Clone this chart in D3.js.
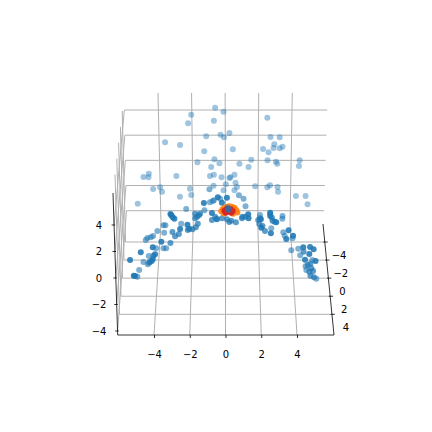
<!DOCTYPE html>
<html>
<head>
<meta charset="utf-8">
<script src="https://cdn.jsdelivr.net/npm/d3@7"></script>
<style>
html,body{margin:0;padding:0;background:#fff}
svg{display:block;font-family:"DejaVu Sans",sans-serif}
</style>
</head>
<body>
<svg id="chart" width="432" height="432"></svg>
<script>
const tickValues = [-4,-2,0,2,4];

// Projected positions, in units of the front x axis and the front z axis.
const farX = [-0.58,-1.92,-0.11,-2.09,-0.65,-1.08,-0.28,-0.09,0.22,-3.38,-2.54,-1.19,-0.62,-0.34,-1.57,-0.80,-0.65,-0.87,-4.29,-4.59,-4.31,-2.75,-0.22,0.22,0.02,-0.67,-4.05,-3.66,-3.55,-1.99,-0.11,-2.55,-1.92,-4.91,2.34,2.52,3.03,2.73,2.10,2.69,3.03,3.19,2.41,0.41,1.44,0.78,1.29,2.35,2.82,2.90,4.15,4.11,0.28,0.50,0.56,0.64,0.50,1.66,2.34,2.49,2.91,2.94,3.94,4.48,4.59];
const farZ = [12.85,12.32,12.55,11.68,11.87,10.69,10.82,10.62,10.94,10.24,10.04,9.56,8.96,8.66,8.73,8.38,7.80,7.70,7.87,7.62,7.60,7.70,7.60,7.55,7.07,6.97,6.72,6.85,6.51,6.74,6.62,6.14,6.26,5.61,12.10,10.64,10.62,10.09,9.74,9.81,9.79,9.91,9.49,9.71,8.93,8.63,8.38,8.88,8.78,8.63,8.88,8.45,7.60,7.80,7.19,6.87,6.62,6.92,6.85,7.00,6.87,6.51,6.19,6.19,5.56];

const midX = [0.75,1.01,1.12,-0.90,-0.65,-0.87,-2.20,-0.71,-1.18,-0.30,1.93,2.50,3.19,3.18,-3.47,-3.36,-3.43,-3.81,-4.05,-4.18,-4.37,-4.46,-3.88,-3.47,-3.32,-4.29,-4.59,-4.35,-4.83,-4.93,-2.48,4.07,4.18,3.68,4.86,4.48,5.08,4.52,3.23,3.31,3.75,2.56];
const midZ = [6.24,5.98,5.41,6.69,5.86,5.71,5.21,5.81,5.11,5.98,4.75,4.83,4.68,4.48,3.98,3.98,3.42,3.55,3.17,3.07,3.02,2.87,2.24,2.24,2.24,1.66,1.21,1.03,0.60,0.10,4.10,2.21,1.71,2.09,1.36,0.88,-0.05,0.60,3.45,3.19,3.00,3.75];

const nearX = [-1.70,-1.42,-1.49,-1.59,-1.70,-1.55,-1.66,-1.85,-2.11,-2.61,-2.82,-2.97,-3.08,-4.03,-0.58,-0.50,-0.76,-0.48,-0.20,0.08,0.32,0.58,0.21,0.92,1.10,0.95,1.93,1.83,1.89,2.07,2.21,2.63,2.75,2.60,4.60,4.75,4.80,4.69,4.90,4.75,4.95,4.37,-4.22,-4.12,-4.27];
const nearZ = [4.85,4.85,4.73,4.63,4.51,4.10,3.83,3.68,3.62,3.32,3.15,3.47,2.64,1.68,4.63,4.45,4.38,4.43,4.51,4.43,4.32,4.20,4.23,4.51,4.63,4.63,4.51,4.38,4.08,3.92,3.55,4.32,4.25,4.55,0.98,1.08,0.73,0.48,0.53,0.17,0.05,1.98,1.23,1.28,1.15];

const frontX = [-0.43,0.08,-0.20,-1.21,-3.08,-3.03,-2.95,-2.86,-2.13,-2.03,-2.54,-3.59,-4.07,-4.74,-3.94,-5.34,-4.07,-5.13,-5.06,-0.76,1.27,1.29,1.98,2.00,2.50,2.50,2.84,2.54,3.40,3.53,3.78,4.35,4.73,4.93,4.69,4.45,5.04];
const frontZ = [6.09,6.06,5.68,5.66,4.83,4.73,4.58,4.48,4.02,3.72,3.70,2.74,2.32,1.94,1.79,1.36,1.41,0.17,0.15,4.91,4.81,4.51,4.43,3.80,4.93,4.68,4.20,3.37,2.94,3.60,3.19,2.32,2.34,2.17,1.81,1.38,1.28];

const orangeX = [-0.24,-0.16,-0.06,0.08,0.21,0.36,0.50,0.60,0.66,-0.10,0.42,0.20];
const orangeZ = [5.03,5.18,5.30,5.38,5.42,5.38,5.30,5.14,4.95,4.87,4.85,5.10];
const redX = [-0.06,0.06,0.18,0.30,0.40,0.02,0.32,0.18];
const redZ = [5.08,5.18,5.21,5.19,5.05,4.93,4.93,5.02];
const coreX = [0.18,0.12];
const coreZ = [5.16,5.30];

const svg = d3.select("#chart");
const BLUE = "#1f77b4", GRID = "#b0b0b0";

// Box corners on screen
const frontLeft = [117.7,335], frontRight = [334,335];
const topLeftFront = [113,193], rearRight = [323,224];

const xFront = d3.scaleLinear([-4,4],[154,297]);
const zFront = d3.scaleLinear([-4,4],[331,225]);
const xRearFloor = d3.scaleLinear([-4,4],[161,290]);
const xRearTop = d3.scaleLinear([-4,4],[158,292.3]);
const zRear = d3.scaleLinear([-4,4],[210.7,110]);
const zRearLeft = d3.scaleLinear([-4,4],[126.5,124.3]);
const zRearRight = d3.scaleLinear([-4,4],[324,327.3]);
const zSpineX = d3.scaleLinear([-4,4],[117.6,114.1]);
const yFloor = d3.scaleLinear([-4,4],[242,314.3]);
const yFloorLeft = d3.scaleLinear([-4,4],[125.5,119.5]);
const yFloorRight = d3.scaleLinear([-4,4],[324.9,332.1]);
const yWallTopX = d3.scaleLinear([-4,4],[122.2,115]);
const yWallTopY = d3.scaleLinear([-4,4],[111,174.5]);
const yLabelX = d3.scaleLinear([-4,4],[339,346]);
const yLabelY = d3.scaleLinear([-4,4],[258.5,330.5]);
const depthOpacity = d3.scaleLinear([0,3],[0.43,0.88]);

const line = d3.line();
const grid = svg.append("g").attr("fill","none").attr("stroke",GRID).attr("stroke-width",1);
function seg(pts){ grid.append("path").attr("d",line(pts)); }

tickValues.forEach(t=>{
  // x gridlines: floor, then back wall
  seg([[xFront(t),335],[xRearFloor(t),224],[xRearTop(t),93]]);
  // z gridlines: left wall, then back wall
  seg([[zSpineX(t),zFront(t)],[zRearLeft(t),zRear(t)],[zRearRight(t),zRear(t)]]);
  // y gridlines: left wall, then floor
  seg([[yWallTopX(t),yWallTopY(t)],[yFloorLeft(t),yFloor(t)],[yFloorRight(t),yFloor(t)]]);
});

// Axis lines
const axes = svg.append("g").attr("fill","none").attr("stroke","#000").attr("stroke-width",0.8);
axes.append("path").attr("d",line([topLeftFront,frontLeft,frontRight,rearRight]));

// Ticks on the z and y axes
tickValues.forEach(t=>{
  axes.append("path").attr("d",line([[zSpineX(t)-2.5,zFront(t)],[zSpineX(t)+1,zFront(t)]]));
  axes.append("path").attr("d",line([[yFloorRight(t)-1.5,yFloor(t)],[yFloorRight(t)+2.8,yFloor(t)]]));
});

// Bottom x axis
const xAxis = d3.axisBottom(xFront).tickValues(tickValues).tickSize(3).tickPadding(13);
const xg = svg.append("g").attr("transform","translate(0,335)").call(xAxis);
xg.select(".domain").remove();
xg.selectAll("line").attr("stroke-width",0.8);
xg.selectAll("text").attr("font-size",10).attr("font-family","DejaVu Sans").attr("fill","#000");

const fmt = d3.format("d");
const labels = svg.append("g").attr("font-size",10).attr("fill","#000").attr("text-anchor","middle");
tickValues.forEach(t=>{
  labels.append("text").attr("x",99).attr("y",zFront(t)+3.5).text(fmt(t));
  labels.append("text").attr("x",yLabelX(t)).attr("y",yLabelY(t)).text(fmt(t));
});

// Points
function scatter(xs,zs,fill,opacity,r){
  svg.append("g").selectAll("circle").data(xs).join("circle")
    .attr("cx",d=>xFront(d))
    .attr("cy",(d,i)=>zFront(zs[i]))
    .attr("r",r)
    .attr("fill",fill)
    .attr("opacity",opacity);
}
const R = 3;
scatter(farX,farZ,BLUE,depthOpacity(0),R);
scatter(midX,midZ,BLUE,depthOpacity(1),R);
scatter(nearX,nearZ,BLUE,depthOpacity(2),R);
scatter(frontX,frontZ,BLUE,depthOpacity(3),R);
scatter(orangeX,orangeZ,"#ff7f0e",0.9,R);
scatter(redX,redZ,"#d62728",1,R);
scatter(coreX,coreZ,BLUE,0.65,R);
</script>
</body>
</html>
